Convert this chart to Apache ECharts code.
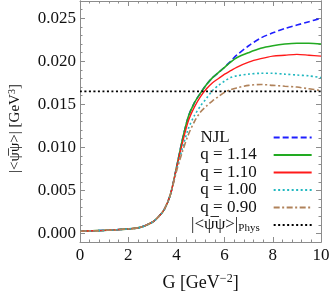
<!DOCTYPE html>
<html>
<head>
<meta charset="utf-8">
<script src="https://cdn.jsdelivr.net/npm/echarts@6/dist/echarts.min.js"></script>
<style>html,body{margin:0;padding:0;background:#fff}#c{width:332px;height:296px}</style>
</head>
<body>
<div id="c"></div>
<script>
// ---- data ----
var G = [0,0.5,1,1.5,2,2.5,3,3.25,3.5,3.75,4,4.25,4.5,4.75,5,5.25,5.5,5.75,6,6.25,6.5,7,7.5,8,8.5,9,9.5,10];
var njl   = [0.00025,0.0003,0.00035,0.00042,0.00052,0.0007,0.0013,0.0019,0.0028,0.0045,0.0076,0.0109,0.0136,0.0152,0.0163,0.0173,0.0181,0.0187,0.0193,0.0200,0.0207,0.0218,0.0227,0.0233,0.0238,0.0242,0.0246,0.0250];
var q114  = [0.00025,0.0003,0.00035,0.00042,0.00052,0.0007,0.0013,0.0019,0.0028,0.0045,0.0076,0.0109,0.0136,0.0152,0.0163,0.0173,0.0181,0.0187,0.0193,0.0199,0.0204,0.0210,0.0215,0.0218,0.0220,0.0221,0.0221,0.0220];
var q110  = [0.00025,0.0003,0.00035,0.00042,0.00052,0.0007,0.0013,0.0019,0.0028,0.0045,0.0075,0.0105,0.0131,0.0147,0.0159,0.0168,0.0175,0.0180,0.0185,0.0189,0.0193,0.0199,0.0203,0.0206,0.0207,0.0208,0.0207,0.0206];
var q100  = [0.00025,0.0003,0.00035,0.00042,0.00052,0.0007,0.0013,0.0019,0.0028,0.0045,0.0073,0.0099,0.0122,0.0137,0.0148,0.0157,0.0166,0.0172,0.0177,0.0181,0.0183,0.0185,0.0186,0.0186,0.0185,0.0184,0.0183,0.0181];
var q090  = [0.00025,0.0003,0.00035,0.00042,0.00052,0.0007,0.0013,0.0019,0.0028,0.0045,0.0072,0.0095,0.0115,0.0130,0.0141,0.0148,0.0154,0.0159,0.0164,0.0167,0.0169,0.0172,0.0173,0.0172,0.0171,0.0170,0.0168,0.0166];
var physG = [0, 10];
var physV = [0.0165, 0.0165];
var xTicks = [0,2,4,6,8,10];
var yTicks = [0,0.005,0.010,0.015,0.020,0.025];
var legendNames = ['NJL','q = 1.14','q = 1.10','q = 1.00','q = 0.90','phys'];

var X_MIN = 0, X_MAX = 10, Y_MIN = -0.001, Y_MAX = 0.027;
function pairs(xs, ys){ return xs.map(function(x,i){ return [x, ys[i]]; }); }
var yMinor = [];
for (var k = -1; k <= 27; k++) yMinor.push(k/1000);

var FONT = 'Liberation Serif';
var AX = '#8c8c8c';
var measureCtx = document.createElement('canvas').getContext('2d');
function textW(s, size){ measureCtx.font = size + 'px "' + FONT + '"'; return measureCtx.measureText(s).width; }

function yAx(pos, major, labels){
  return {
    type:'value', position: pos, min:Y_MIN, max:Y_MAX,
    axisLine:{show:true, lineStyle:{color:AX, width:1}},
    splitLine:{show:false},
    axisTick:{show:true, inside:true, length: major?5:2.5, lineStyle:{color:AX}, customValues: major?yTicks:yMinor},
    axisLabel: labels ? {show:true, customValues:yTicks, margin:4, fontFamily:FONT, fontSize:17, color:'#111',
      formatter:function(v){ return v.toFixed(3) + '{z|}'; }, rich:{z:{width:0, fontFamily:FONT}}} : {show:false},
    name: labels ? '|<ψ̅ψ>| [GeV{sup|3}]' : '',
    nameLocation:'middle', nameGap:56,
    nameTextStyle:{fontFamily:FONT, fontSize:15, color:'#111', padding:[0,14,0,0], rich:{sup:{fontSize:10, verticalAlign:'top', padding:[0,0,7,0], fontFamily:FONT, color:'#111'}}}
  };
}
function xAx(pos, labels){
  return {
    type:'value', position: pos, min:X_MIN, max:X_MAX, interval:2,
    axisLine:{show:true, onZero:false, lineStyle:{color:AX, width:1}},
    splitLine:{show:false},
    axisTick:{show:true, inside:true, length:5, lineStyle:{color:AX}},
    minorTick:{show:true, splitNumber:5, length:2.5, lineStyle:{color:AX}},
    axisLabel: labels ? {show:true, margin:5, fontFamily:FONT, fontSize:17, color:'#111',
      formatter:function(v){ return String(v) + '{z|}'; }, rich:{z:{width:0, fontFamily:FONT}}} : {show:false},
    name: labels ? 'G [GeV{sup|−2}]' : '',
    nameLocation:'middle', nameGap:31,
    nameTextStyle:{fontFamily:FONT, fontSize:18, color:'#111', rich:{sup:{fontSize:12, verticalAlign:'top', padding:[0,0,8,0], fontFamily:FONT, color:'#111'}}}
  };
}
function ser(name, xs, ys, color, type, width){
  return {
    name:name, type:'line', data:pairs(xs, ys), smooth:0.3, symbol:'none', xAxisIndex:0, yAxisIndex:0,
    lineStyle:{color:color, width:width, type:type}, itemStyle:{color:color}, animation:false
  };
}
var TXT_W = 68, PHYS_W = 78;
var richPad = {};
function padName(n){
  if (n === 'phys') {
    var w = textW('|<ψ̅ψ>|', 17) + textW('Phys', 11);
    var p = Math.max(1, Math.round(PHYS_W - w));
    richPad['q' + p] = {width:p};
    return '{t||<ψ̅ψ>|}{sub|Phys}{q' + p + '|}';
  }
  var p2 = Math.max(1, Math.round(TXT_W - textW(n, 17)));
  richPad['q' + p2] = {width:p2};
  return '{t|' + n + '}{q' + p2 + '|}';
}
var legendText = {};
legendNames.forEach(function(n){ legendText[n] = padName(n); });
var legendRich = {
  t:{fontFamily:FONT, fontSize:17, color:'#111', lineHeight:17},
  sub:{fontSize:11, verticalAlign:'bottom', padding:[6,0,0,0], fontFamily:FONT, color:'#111'}
};
for (var key in richPad) legendRich[key] = richPad[key];

var chart = echarts.init(document.getElementById('c'), null, {renderer:'canvas'});
chart.setOption({
  animation:false,
  backgroundColor:'#fff',
  textStyle:{fontFamily:FONT},
  grid:{left:80, right:11, top:1, bottom:54, containLabel:false, outerBoundsMode:'none'},
  xAxis:[xAx('bottom', true), xAx('top', false)],
  yAxis:[yAx('left', true, true), yAx('left', false, false), yAx('right', true, false), yAx('right', false, false)],
  legend:{
    orient:'vertical', left:186, top:124, align:'right', itemGap:0.5,
    itemWidth:38, itemHeight:10,
    itemStyle:{opacity:0},
    data: legendNames,
    textStyle:{fontFamily:FONT, fontSize:17, color:'#111', lineHeight:17, rich:legendRich},
    formatter:function(n){ return legendText[n]; }
  },
  series:[
    ser('NJL', G, njl, '#1f1fff', [6,3], 1.6),
    ser('q = 1.14', G, q114, '#22aa22', 'solid', 1.6),
    ser('q = 1.10', G, q110, '#ff1a1a', 'solid', 1.4),
    ser('q = 1.00', G, q100, '#22b8c0', [2,2.5], 1.6),
    ser('q = 0.90', G, q090, '#b0825a', [6,2.5,2,2.5], 1.6),
    ser('phys', physG, physV, '#000000', [2,2.5], 1.6)
  ]
});
</script>
</body>
</html>
